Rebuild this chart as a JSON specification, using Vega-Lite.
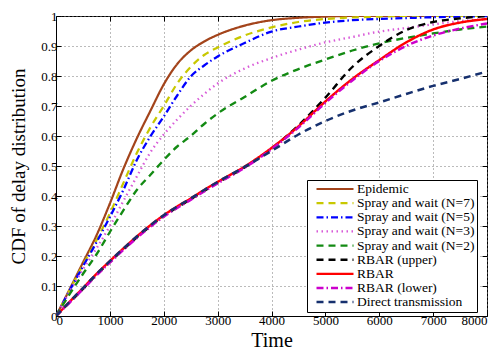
{
  "$schema": "https://vega.github.io/schema/vega-lite/v6.json",
  "width": 431,
  "height": 300,
  "autosize": "none",
  "padding": {"left": 56, "top": 16, "right": 15, "bottom": 34},
  "background": "white",
  "config": {
    "view": {"stroke": "black", "strokeWidth": 1},
    "font": "Liberation Serif",
    "axis": {
      "labelFont": "Liberation Serif",
      "labelFontSize": 13,
      "labelColor": "black",
      "titleFont": "Liberation Serif",
      "titleFontWeight": "normal",
      "titleColor": "black",
      "domainColor": "black",
      "tickColor": "black",
      "gridColor": "#777777",
      "gridDash": [1, 3],
      "gridOpacity": 1,
      "gridWidth": 1
    }
  },
  "data": {
    "values": [
      {"s": "Epidemic", "t": 0, "p": 0}, {"s": "Epidemic", "t": 250, "p": 0.088}, {"s": "Epidemic", "t": 500, "p": 0.178}, {"s": "Epidemic", "t": 750, "p": 0.268}, {"s": "Epidemic", "t": 1000, "p": 0.375}, {"s": "Epidemic", "t": 1250, "p": 0.49}, {"s": "Epidemic", "t": 1500, "p": 0.592}, {"s": "Epidemic", "t": 1750, "p": 0.683}, {"s": "Epidemic", "t": 2000, "p": 0.772}, {"s": "Epidemic", "t": 2250, "p": 0.84}, {"s": "Epidemic", "t": 2500, "p": 0.885}, {"s": "Epidemic", "t": 2750, "p": 0.915}, {"s": "Epidemic", "t": 3000, "p": 0.937}, {"s": "Epidemic", "t": 3500, "p": 0.968}, {"s": "Epidemic", "t": 4000, "p": 0.986}, {"s": "Epidemic", "t": 4500, "p": 0.994}, {"s": "Epidemic", "t": 5000, "p": 0.998}, {"s": "Epidemic", "t": 5500, "p": 1}, {"s": "Epidemic", "t": 6000, "p": 1}, {"s": "Epidemic", "t": 6500, "p": 1}, {"s": "Epidemic", "t": 7000, "p": 1}, {"s": "Epidemic", "t": 7500, "p": 1}, {"s": "Epidemic", "t": 8000, "p": 1},

      {"s": "Spray and wait (N=7)", "t": 0, "p": 0}, {"s": "Spray and wait (N=7)", "t": 250, "p": 0.085}, {"s": "Spray and wait (N=7)", "t": 500, "p": 0.17}, {"s": "Spray and wait (N=7)", "t": 750, "p": 0.252}, {"s": "Spray and wait (N=7)", "t": 1000, "p": 0.342}, {"s": "Spray and wait (N=7)", "t": 1250, "p": 0.443}, {"s": "Spray and wait (N=7)", "t": 1500, "p": 0.543}, {"s": "Spray and wait (N=7)", "t": 1750, "p": 0.628}, {"s": "Spray and wait (N=7)", "t": 2000, "p": 0.7}, {"s": "Spray and wait (N=7)", "t": 2250, "p": 0.775}, {"s": "Spray and wait (N=7)", "t": 2500, "p": 0.83}, {"s": "Spray and wait (N=7)", "t": 2750, "p": 0.87}, {"s": "Spray and wait (N=7)", "t": 3000, "p": 0.895}, {"s": "Spray and wait (N=7)", "t": 3500, "p": 0.935}, {"s": "Spray and wait (N=7)", "t": 4000, "p": 0.962}, {"s": "Spray and wait (N=7)", "t": 4500, "p": 0.98}, {"s": "Spray and wait (N=7)", "t": 5000, "p": 0.99}, {"s": "Spray and wait (N=7)", "t": 5500, "p": 0.995}, {"s": "Spray and wait (N=7)", "t": 6000, "p": 0.998}, {"s": "Spray and wait (N=7)", "t": 6500, "p": 1}, {"s": "Spray and wait (N=7)", "t": 7000, "p": 1}, {"s": "Spray and wait (N=7)", "t": 7500, "p": 1}, {"s": "Spray and wait (N=7)", "t": 8000, "p": 1},

      {"s": "Spray and wait (N=5)", "t": 0, "p": 0}, {"s": "Spray and wait (N=5)", "t": 250, "p": 0.084}, {"s": "Spray and wait (N=5)", "t": 500, "p": 0.165}, {"s": "Spray and wait (N=5)", "t": 750, "p": 0.245}, {"s": "Spray and wait (N=5)", "t": 1000, "p": 0.33}, {"s": "Spray and wait (N=5)", "t": 1250, "p": 0.42}, {"s": "Spray and wait (N=5)", "t": 1500, "p": 0.52}, {"s": "Spray and wait (N=5)", "t": 1750, "p": 0.598}, {"s": "Spray and wait (N=5)", "t": 2000, "p": 0.665}, {"s": "Spray and wait (N=5)", "t": 2250, "p": 0.735}, {"s": "Spray and wait (N=5)", "t": 2500, "p": 0.798}, {"s": "Spray and wait (N=5)", "t": 2750, "p": 0.835}, {"s": "Spray and wait (N=5)", "t": 3000, "p": 0.865}, {"s": "Spray and wait (N=5)", "t": 3500, "p": 0.91}, {"s": "Spray and wait (N=5)", "t": 4000, "p": 0.948}, {"s": "Spray and wait (N=5)", "t": 4500, "p": 0.965}, {"s": "Spray and wait (N=5)", "t": 5000, "p": 0.978}, {"s": "Spray and wait (N=5)", "t": 5500, "p": 0.986}, {"s": "Spray and wait (N=5)", "t": 6000, "p": 0.99}, {"s": "Spray and wait (N=5)", "t": 6500, "p": 0.993}, {"s": "Spray and wait (N=5)", "t": 7000, "p": 0.996}, {"s": "Spray and wait (N=5)", "t": 7500, "p": 0.998}, {"s": "Spray and wait (N=5)", "t": 8000, "p": 1},

      {"s": "Spray and wait (N=3)", "t": 0, "p": 0}, {"s": "Spray and wait (N=3)", "t": 250, "p": 0.08}, {"s": "Spray and wait (N=3)", "t": 500, "p": 0.155}, {"s": "Spray and wait (N=3)", "t": 750, "p": 0.225}, {"s": "Spray and wait (N=3)", "t": 1000, "p": 0.3}, {"s": "Spray and wait (N=3)", "t": 1250, "p": 0.383}, {"s": "Spray and wait (N=3)", "t": 1500, "p": 0.465}, {"s": "Spray and wait (N=3)", "t": 1750, "p": 0.545}, {"s": "Spray and wait (N=3)", "t": 2000, "p": 0.605}, {"s": "Spray and wait (N=3)", "t": 2250, "p": 0.655}, {"s": "Spray and wait (N=3)", "t": 2500, "p": 0.7}, {"s": "Spray and wait (N=3)", "t": 2750, "p": 0.74}, {"s": "Spray and wait (N=3)", "t": 3000, "p": 0.775}, {"s": "Spray and wait (N=3)", "t": 3500, "p": 0.825}, {"s": "Spray and wait (N=3)", "t": 4000, "p": 0.86}, {"s": "Spray and wait (N=3)", "t": 4500, "p": 0.888}, {"s": "Spray and wait (N=3)", "t": 5000, "p": 0.912}, {"s": "Spray and wait (N=3)", "t": 5500, "p": 0.93}, {"s": "Spray and wait (N=3)", "t": 6000, "p": 0.948}, {"s": "Spray and wait (N=3)", "t": 6500, "p": 0.96}, {"s": "Spray and wait (N=3)", "t": 7000, "p": 0.972}, {"s": "Spray and wait (N=3)", "t": 7500, "p": 0.983}, {"s": "Spray and wait (N=3)", "t": 8000, "p": 0.99},

      {"s": "Spray and wait (N=2)", "t": 0, "p": 0}, {"s": "Spray and wait (N=2)", "t": 250, "p": 0.072}, {"s": "Spray and wait (N=2)", "t": 500, "p": 0.14}, {"s": "Spray and wait (N=2)", "t": 750, "p": 0.205}, {"s": "Spray and wait (N=2)", "t": 1000, "p": 0.28}, {"s": "Spray and wait (N=2)", "t": 1250, "p": 0.352}, {"s": "Spray and wait (N=2)", "t": 1500, "p": 0.42}, {"s": "Spray and wait (N=2)", "t": 1750, "p": 0.47}, {"s": "Spray and wait (N=2)", "t": 2000, "p": 0.52}, {"s": "Spray and wait (N=2)", "t": 2250, "p": 0.565}, {"s": "Spray and wait (N=2)", "t": 2500, "p": 0.6}, {"s": "Spray and wait (N=2)", "t": 2750, "p": 0.64}, {"s": "Spray and wait (N=2)", "t": 3000, "p": 0.675}, {"s": "Spray and wait (N=2)", "t": 3500, "p": 0.73}, {"s": "Spray and wait (N=2)", "t": 4000, "p": 0.784}, {"s": "Spray and wait (N=2)", "t": 4500, "p": 0.823}, {"s": "Spray and wait (N=2)", "t": 5000, "p": 0.855}, {"s": "Spray and wait (N=2)", "t": 5500, "p": 0.885}, {"s": "Spray and wait (N=2)", "t": 6000, "p": 0.909}, {"s": "Spray and wait (N=2)", "t": 6500, "p": 0.927}, {"s": "Spray and wait (N=2)", "t": 7000, "p": 0.942}, {"s": "Spray and wait (N=2)", "t": 7500, "p": 0.955}, {"s": "Spray and wait (N=2)", "t": 8000, "p": 0.965},

      {"s": "RBAR (upper)", "t": 0, "p": 0}, {"s": "RBAR (upper)", "t": 250, "p": 0.045}, {"s": "RBAR (upper)", "t": 500, "p": 0.09}, {"s": "RBAR (upper)", "t": 750, "p": 0.137}, {"s": "RBAR (upper)", "t": 1000, "p": 0.18}, {"s": "RBAR (upper)", "t": 1250, "p": 0.222}, {"s": "RBAR (upper)", "t": 1500, "p": 0.262}, {"s": "RBAR (upper)", "t": 1750, "p": 0.299}, {"s": "RBAR (upper)", "t": 2000, "p": 0.333}, {"s": "RBAR (upper)", "t": 2250, "p": 0.362}, {"s": "RBAR (upper)", "t": 2500, "p": 0.389}, {"s": "RBAR (upper)", "t": 2750, "p": 0.417}, {"s": "RBAR (upper)", "t": 3000, "p": 0.444}, {"s": "RBAR (upper)", "t": 3500, "p": 0.495}, {"s": "RBAR (upper)", "t": 4000, "p": 0.558}, {"s": "RBAR (upper)", "t": 4500, "p": 0.635}, {"s": "RBAR (upper)", "t": 5000, "p": 0.728}, {"s": "RBAR (upper)", "t": 5500, "p": 0.83}, {"s": "RBAR (upper)", "t": 6000, "p": 0.9}, {"s": "RBAR (upper)", "t": 6500, "p": 0.953}, {"s": "RBAR (upper)", "t": 7000, "p": 0.98}, {"s": "RBAR (upper)", "t": 7500, "p": 0.992}, {"s": "RBAR (upper)", "t": 8000, "p": 1},

      {"s": "RBAR", "t": 0, "p": 0}, {"s": "RBAR", "t": 250, "p": 0.047}, {"s": "RBAR", "t": 500, "p": 0.093}, {"s": "RBAR", "t": 750, "p": 0.14}, {"s": "RBAR", "t": 1000, "p": 0.183}, {"s": "RBAR", "t": 1250, "p": 0.225}, {"s": "RBAR", "t": 1500, "p": 0.265}, {"s": "RBAR", "t": 1750, "p": 0.302}, {"s": "RBAR", "t": 2000, "p": 0.336}, {"s": "RBAR", "t": 2250, "p": 0.365}, {"s": "RBAR", "t": 2500, "p": 0.392}, {"s": "RBAR", "t": 2750, "p": 0.42}, {"s": "RBAR", "t": 3000, "p": 0.447}, {"s": "RBAR", "t": 3500, "p": 0.498}, {"s": "RBAR", "t": 4000, "p": 0.56}, {"s": "RBAR", "t": 4500, "p": 0.632}, {"s": "RBAR", "t": 5000, "p": 0.715}, {"s": "RBAR", "t": 5500, "p": 0.79}, {"s": "RBAR", "t": 6000, "p": 0.853}, {"s": "RBAR", "t": 6500, "p": 0.912}, {"s": "RBAR", "t": 7000, "p": 0.955}, {"s": "RBAR", "t": 7500, "p": 0.978}, {"s": "RBAR", "t": 8000, "p": 0.99},

      {"s": "RBAR (lower)", "t": 0, "p": 0}, {"s": "RBAR (lower)", "t": 250, "p": 0.044}, {"s": "RBAR (lower)", "t": 500, "p": 0.089}, {"s": "RBAR (lower)", "t": 750, "p": 0.135}, {"s": "RBAR (lower)", "t": 1000, "p": 0.178}, {"s": "RBAR (lower)", "t": 1250, "p": 0.22}, {"s": "RBAR (lower)", "t": 1500, "p": 0.26}, {"s": "RBAR (lower)", "t": 1750, "p": 0.297}, {"s": "RBAR (lower)", "t": 2000, "p": 0.331}, {"s": "RBAR (lower)", "t": 2250, "p": 0.36}, {"s": "RBAR (lower)", "t": 2500, "p": 0.387}, {"s": "RBAR (lower)", "t": 2750, "p": 0.415}, {"s": "RBAR (lower)", "t": 3000, "p": 0.442}, {"s": "RBAR (lower)", "t": 3500, "p": 0.494}, {"s": "RBAR (lower)", "t": 4000, "p": 0.556}, {"s": "RBAR (lower)", "t": 4500, "p": 0.628}, {"s": "RBAR (lower)", "t": 5000, "p": 0.71}, {"s": "RBAR (lower)", "t": 5500, "p": 0.785}, {"s": "RBAR (lower)", "t": 6000, "p": 0.85}, {"s": "RBAR (lower)", "t": 6500, "p": 0.9}, {"s": "RBAR (lower)", "t": 7000, "p": 0.935}, {"s": "RBAR (lower)", "t": 7500, "p": 0.958}, {"s": "RBAR (lower)", "t": 8000, "p": 0.975},

      {"s": "Direct transmission", "t": 0, "p": 0}, {"s": "Direct transmission", "t": 250, "p": 0.047}, {"s": "Direct transmission", "t": 500, "p": 0.093}, {"s": "Direct transmission", "t": 750, "p": 0.14}, {"s": "Direct transmission", "t": 1000, "p": 0.183}, {"s": "Direct transmission", "t": 1250, "p": 0.225}, {"s": "Direct transmission", "t": 1500, "p": 0.265}, {"s": "Direct transmission", "t": 1750, "p": 0.302}, {"s": "Direct transmission", "t": 2000, "p": 0.336}, {"s": "Direct transmission", "t": 2250, "p": 0.365}, {"s": "Direct transmission", "t": 2500, "p": 0.392}, {"s": "Direct transmission", "t": 2750, "p": 0.42}, {"s": "Direct transmission", "t": 3000, "p": 0.447}, {"s": "Direct transmission", "t": 3500, "p": 0.497}, {"s": "Direct transmission", "t": 4000, "p": 0.55}, {"s": "Direct transmission", "t": 4500, "p": 0.605}, {"s": "Direct transmission", "t": 5000, "p": 0.65}, {"s": "Direct transmission", "t": 5500, "p": 0.685}, {"s": "Direct transmission", "t": 6000, "p": 0.712}, {"s": "Direct transmission", "t": 6500, "p": 0.74}, {"s": "Direct transmission", "t": 7000, "p": 0.767}, {"s": "Direct transmission", "t": 7500, "p": 0.79}, {"s": "Direct transmission", "t": 8000, "p": 0.815}
    ]
  },
  "layer": [
    {
      "mark": {"type": "line", "interpolate": "monotone", "clip": true},
      "encoding": {
        "x": {
          "field": "t", "type": "quantitative",
          "scale": {"domain": [0, 8000], "nice": false},
          "axis": {
            "title": "Time", "titleFontSize": 20,
            "titleX": 215.5, "titleY": 30.5, "titleBaseline": "alphabetic",
            "values": [0, 1000, 2000, 3000, 4000, 5000, 6000, 7000, 8000],
            "format": "d", "tickSize": -5, "labelPadding": 3, "grid": true
          }
        },
        "y": {
          "field": "p", "type": "quantitative",
          "scale": {"domain": [0, 1], "nice": false},
          "axis": {
            "title": "CDF of delay distribution", "titleFontSize": 19,
            "titleX": -31.5, "titleY": 150, "titleBaseline": "alphabetic", "titleAngle": 270,
            "values": [0, 0.1, 0.2, 0.3, 0.4, 0.5, 0.6, 0.7, 0.8, 0.9, 1],
            "format": "~g", "tickSize": -5, "labelPadding": 4, "grid": true
          }
        },
        "color": {
          "field": "s", "type": "nominal",
          "scale": {
            "domain": ["Epidemic", "Spray and wait (N=7)", "Spray and wait (N=5)", "Spray and wait (N=3)", "Spray and wait (N=2)", "RBAR (upper)", "RBAR", "RBAR (lower)", "Direct transmission"],
            "range": ["#a3441b", "#c8c800", "#0000ff", "#d85ad8", "#138a13", "#000000", "#ff0000", "#cc00cc", "#16306e"]
          },
          "legend": {
            "title": null,
            "orient": "none", "legendX": 251, "legendY": 164, "direction": "vertical",
            "symbolType": "stroke", "symbolSize": 1369, "symbolStrokeWidth": 2.5,
            "symbolOffset": 6, "labelOffset": 2,
            "labelFont": "Liberation Serif", "labelFontSize": 13.5, "labelColor": "black",
            "labelLimit": 0, "labelExpr": "datum.label + '\u00a0\u00a0\u00a0'",
            "clipHeight": 14, "rowPadding": 0.14, "padding": 2,
            "strokeColor": "black", "fillColor": "white"
          }
        },
        "strokeDash": {
          "field": "s", "type": "nominal",
          "scale": {
            "domain": ["Epidemic", "Spray and wait (N=7)", "Spray and wait (N=5)", "Spray and wait (N=3)", "Spray and wait (N=2)", "RBAR (upper)", "RBAR", "RBAR (lower)", "Direct transmission"],
            "range": [[1, 0], [7, 5], [7, 3, 1.5, 3], [1.5, 3.5], [7, 5], [7, 5], [1, 0], [7, 3, 1.5, 3], [7, 5]]
          }
        },
        "strokeWidth": {
          "field": "s", "type": "nominal",
          "scale": {
            "domain": ["Epidemic", "Spray and wait (N=7)", "Spray and wait (N=5)", "Spray and wait (N=3)", "Spray and wait (N=2)", "RBAR (upper)", "RBAR", "RBAR (lower)", "Direct transmission"],
            "range": [2.2, 2.5, 2.5, 1.6, 2.5, 2.5, 2.2, 2.5, 2.5]
          },
          "legend": null
        }
      }
    },
    {
      "mark": {"type": "point", "opacity": 0},
      "encoding": {
        "x": {
          "field": "t", "type": "quantitative",
          "scale": {"domain": [0, 8000], "nice": false},
          "axis": {"orient": "top", "title": null, "labels": false, "grid": false, "domain": false,
                   "values": [1000, 2000, 3000, 4000, 5000, 6000, 7000], "tickSize": -5}
        },
        "y": {
          "field": "p", "type": "quantitative",
          "scale": {"domain": [0, 1], "nice": false},
          "axis": {"orient": "right", "title": null, "labels": false, "grid": false, "domain": false,
                   "values": [0.1, 0.2, 0.3, 0.4, 0.5, 0.6, 0.7, 0.8, 0.9], "tickSize": -5}
        }
      }
    }
  ],
  "resolve": {"axis": {"x": "independent", "y": "independent"}}
}
